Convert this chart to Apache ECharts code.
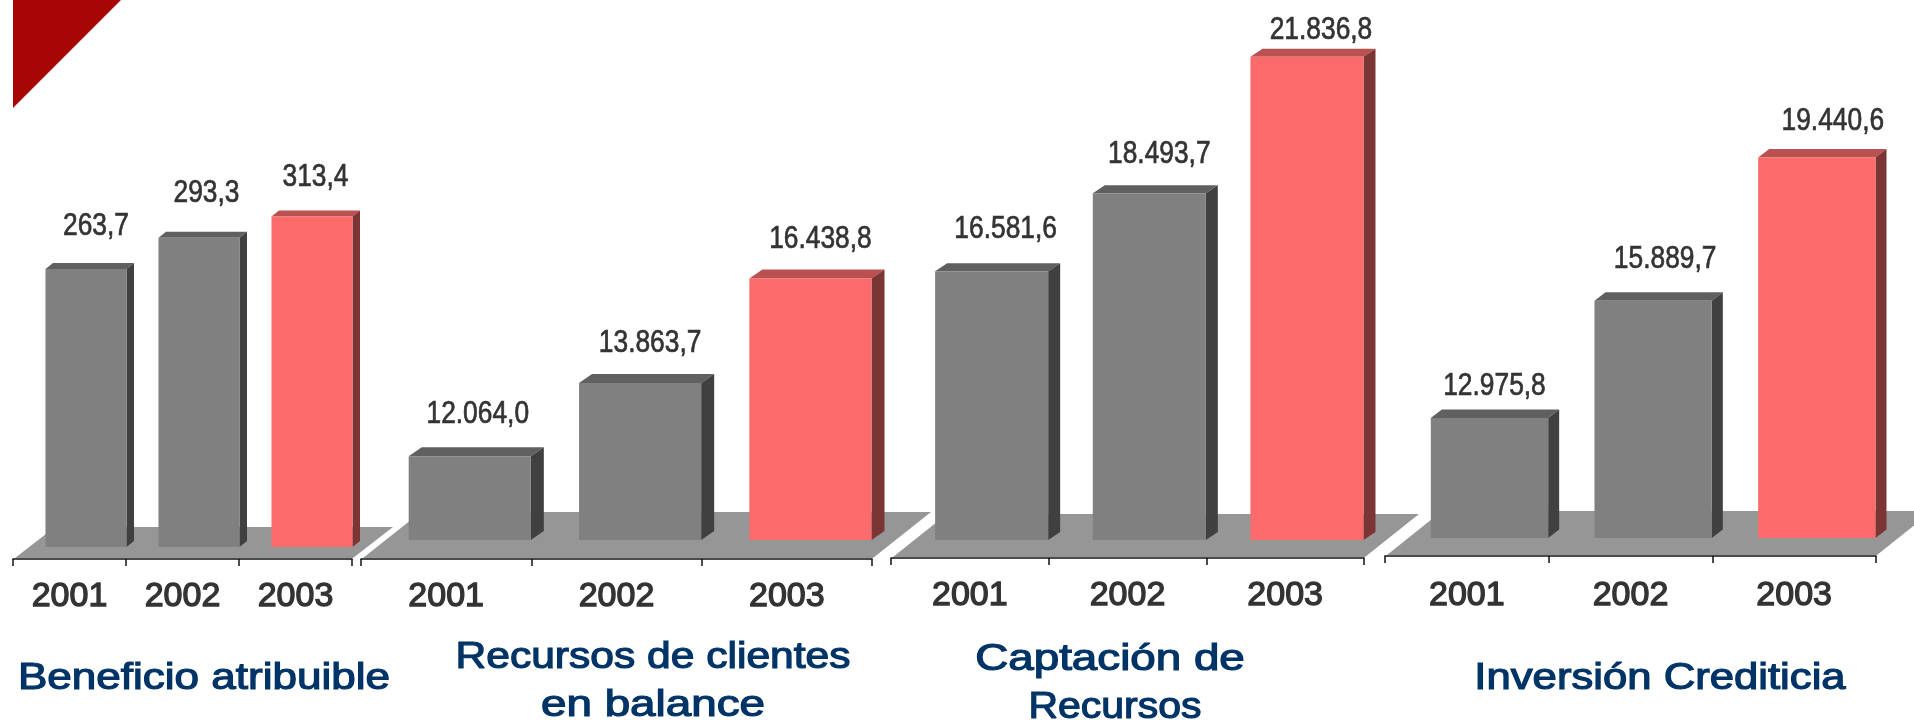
<!DOCTYPE html>
<html>
<head>
<meta charset="utf-8">
<style>html,body{margin:0;padding:0;background:#fff}#c{width:1914px;height:720px}</style>
<script src="https://cdn.jsdelivr.net/npm/echarts@6/dist/echarts.min.js"></script>
</head>
<body>
<div id="c"></div>
<script>
// ---- data ----
const years = ['2001', '2002', '2003'];
const beneficio = [263.7, 293.3, 313.4];
const recursos = [12064.0, 13863.7, 16438.8];
const captacion = [16581.6, 18493.7, 21836.8];
const inversion = [12975.8, 15889.7, 19440.6];
const titleLines = [['Beneficio atribuible'], ['Recursos de clientes', 'en balance'], ['Captación de', 'Recursos'], ['Inversión Crediticia']];
const highlightYear = '2003';

// ---- layout and style ----
const panels = [
  {values: beneficio, min: 0, max: 350, left: 13, width: 339, top: 178, base: 547, axisGap: 12, shift: 1, dx: 7.5, dy: 6, floorDx: 40, floorDy: 31, margin: 21,
   titlePos: [[204, 678.5, 1.19]], off: [[10, -43], [7.5, -44], [3.5, -39]]},
  {values: recursos, min: 10000, max: 18000, left: 361, width: 511, top: 215, base: 540, axisGap: 19, shift: 0, dx: 13, dy: 9, floorDx: 58, floorDy: 46, margin: 21,
   titlePos: [[653, 658, 1.15], [653, 706, 1.237]], off: [[8, -42], [10, -40], [10, -39]]},
  {values: captacion, min: 10000, max: 22000, left: 891, width: 473, top: 50, base: 540, axisGap: 18, shift: 0, dx: 12, dy: 8, floorDx: 54, floorDy: 43, margin: 21,
   titlePos: [[1110, 660, 1.236], [1115, 708, 1.107]], off: [[14, -41.6], [10, -39], [14, -26.5]]},
  {values: inversion, min: 10000, max: 20000, left: 1385, width: 491, top: 135, base: 538, axisGap: 18, shift: 0, dx: 11, dy: 8.5, floorDx: 55, floorDy: 44, margin: 23,
   titlePos: [[1660, 678.5, 1.18]], off: [[5, -32], [12, -41], [16, -36]]}
];
const barShare = 0.717;
const grey = {front: '#808080', side: '#404040', top: '#606060'};
const red = {front: '#FC6B6B', side: '#7C3535', top: '#BA5050'};
const floorColor = '#969696';
const textColor = '#333333';
const titleColor = '#003366';
const labelFont = '31px "Liberation Sans", sans-serif';
const labelScale = 0.85;
const titleFont = '37px "Liberation Sans", sans-serif';

function fmt(v) {
  const [i, d] = v.toFixed(1).split('.');
  return i.replace(/\B(?=(\d{3})+$)/g, '.') + ',' + d;
}

const grid = [], xAxis = [], yAxis = [], series = [], graphic = [];
panels.forEach((p, k) => {
  grid.push({left: p.left, width: p.width, top: p.top, height: p.base - p.top, containLabel: false});
  xAxis.push({
    gridIndex: k, type: 'category', data: years, position: 'bottom', offset: p.axisGap,
    axisLine: {show: true, onZero: false, lineStyle: {color: '#111', width: 1.5}},
    axisTick: {show: true, interval: 0, length: 7, lineStyle: {color: '#111', width: 1.5}},
    axisLabel: {interval: 0, margin: p.margin, color: textColor, fontFamily: 'Liberation Sans', fontSize: 34,
      textBorderColor: textColor, textBorderWidth: 1.3},
    splitLine: {show: false}
  });
  yAxis.push({gridIndex: k, type: 'value', min: p.min, max: p.max, show: false, splitLine: {show: false}});

  // floor plate below the bars of this panel
  series.push({
    type: 'custom', xAxisIndex: k, yAxisIndex: k, z: 1, silent: true, data: [[0]],
    renderItem(params) {
      const cs = params.coordSys;
      const yb = cs.y + cs.height + p.axisGap - 1;
      return {type: 'polygon', shape: {points: [
        [cs.x + 2, yb], [cs.x + cs.width + 1, yb],
        [cs.x + cs.width + 1 + p.floorDx, yb - p.floorDy], [cs.x + 2 + p.floorDx, yb - p.floorDy]
      ]}, style: {fill: floorColor}};
    }
  });

  // 3D bars
  series.push({
    type: 'custom', xAxisIndex: k, yAxisIndex: k, z: 2, silent: true,
    encode: {x: 0, y: 1},
    data: years.map((y, i) => [i, p.values[i]]),
    renderItem(params, api) {
      const i = api.value(0), v = api.value(1);
      const pt = api.coord([i, v]);
      const band = api.size([1, 0])[0];
      const yBase = api.coord([i, p.min])[1];
      const right = pt[0] + band / 2 - 0.5 + p.shift;
      const w = band * barShare;
      const left = right - w;
      const c = years[i] === highlightYear ? red : grey;
      const top = pt[1];
      return {type: 'group', children: [
        {type: 'polygon', shape: {points: [[left, top], [left + p.dx, top - p.dy], [right + p.dx, top - p.dy], [right, top]]}, style: {fill: c.top}},
        {type: 'polygon', shape: {points: [[right, top], [right + p.dx, top - p.dy], [right + p.dx, yBase - p.dy], [right, yBase]]}, style: {fill: c.side}},
        {type: 'rect', shape: {x: left, y: top, width: w, height: yBase - top}, style: {fill: c.front}},
        {type: 'text', x: left + w / 2 + p.off[i][0], y: top + p.off[i][1], scaleX: labelScale, style: {
          x: 0, y: 0, text: fmt(v), fill: textColor, stroke: textColor, lineWidth: 0.7,
          font: labelFont, align: 'center', verticalAlign: 'middle'
        }}
      ]};
    }
  });

  titleLines[k].forEach((line, j) => {
    const [x, y, sx] = p.titlePos[j];
    graphic.push({
      type: 'text', x, y, scaleX: sx, silent: true,
      style: {text: line, fill: titleColor, stroke: titleColor, lineWidth: 1.2, font: titleFont, align: 'center', verticalAlign: 'middle'}
    });
  });
});

graphic.push({type: 'polygon', shape: {points: [[13, 0], [121, 0], [13, 108]]}, style: {fill: '#A80505'}, silent: true});

const chart = echarts.init(document.getElementById('c'), null, {renderer: 'canvas'});
chart.setOption({animation: false, backgroundColor: '#fff', grid, xAxis, yAxis, series, graphic});
</script>
</body>
</html>
